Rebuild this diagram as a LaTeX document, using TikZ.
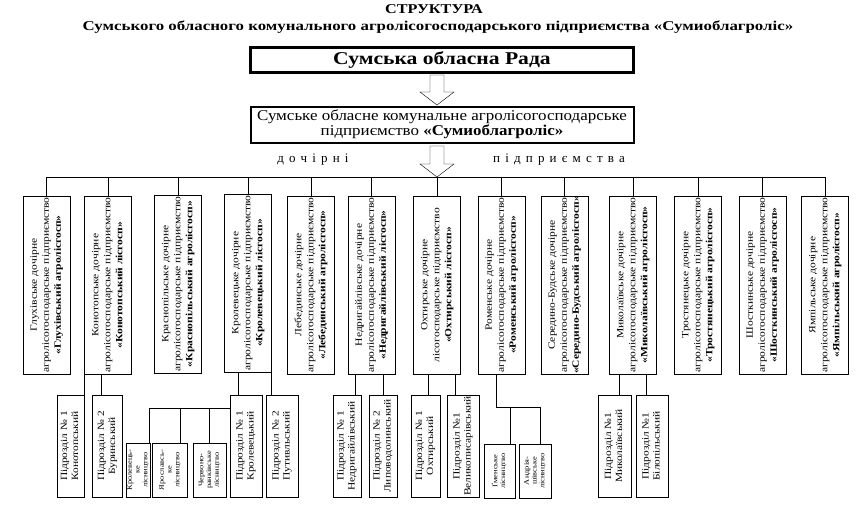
\documentclass[tikz,border=0pt]{standalone}
\usepackage{fontspec}
\setmainfont{Liberation Serif}
\newfontfamily\spaced[LetterSpace=40]{Liberation Serif}
\usepackage{graphicx}
\usetikzlibrary{calc,positioning}

\newcommand{\vtxt}[1]{\rotatebox{90}{\scalebox{1.2}[1]{\begin{tabular}{@{}c@{}}#1\end{tabular}}}}
\newcommand{\wide}[2]{\scalebox{#1}[1]{\begin{tabular}{@{}c@{}}#2\end{tabular}}}
\newcommand{\bigdown}[2]{%
  \draw[fill=white] ($(#1)+(-7,0)$) -- ($(#1)+(7,0)$) -- ($(#2)+(7,-13)$) -- ($(#2)+(17,-13)$)
    -- (#2) -- ($(#2)+(-17,-13)$) -- ($(#2)+(-7,-13)$) -- cycle;}

\tikzset{
  dbox/.style={draw, inner sep=0pt, minimum width=47, minimum height=178, font=\fontsize{9.6}{12}\selectfont},
  sbox/.style={draw, inner sep=0pt, minimum height=102, font=\fontsize{9.5}{11}\selectfont},
  lbox/.style={draw, inner sep=0pt, minimum height=54, font=\fontsize{7}{7.8}\selectfont},
}

\begin{document}
\begin{tikzpicture}[x=1pt,y=-1pt]
\useasboundingbox (0,0) rectangle (868,509);

% title
\node[font=\bfseries\fontsize{13.5}{15}\selectfont] (t1) at (434,10) {\wide{1.2}{СТРУКТУРА}};
\node[font=\bfseries\fontsize{13.5}{15}\selectfont] (t2) at (438,27) {\wide{1.25}{Сумського обласного комунального агролісогосподарського підприємства «Сумиоблагроліс»}};

% top boxes
\node[draw, line width=2.5pt, minimum width=383, minimum height=25, inner sep=0pt, font=\bfseries\fontsize{18}{20}\selectfont] (rada) at (442,60) {\wide{1.2}{Сумська обласна Рада}};
\node[draw, line width=2pt, minimum width=383, minimum height=36, inner sep=0pt, font=\fontsize{15}{15}\selectfont] (sob) at (442,125)
  {\wide{1.13}{Сумське обласне комунальне агролісогосподарське\\підприємство \textbf{«Сумиоблагроліс»}}};

\coordinate (a1t) at (437,75);  \coordinate (a1b) at (437,105);
\coordinate (a2t) at (437,146); \coordinate (a2b) at (437,177);
\bigdown{a1t}{a1b}
\bigdown{a2t}{a2b}
\node[font=\spaced\fontsize{13}{15}\selectfont] (w1) at (313,160) {дочірні};
\node[font=\spaced\fontsize{13}{15}\selectfont] (w2) at (559,160) {підприємства};

% daughter enterprises
\node[dbox] (d1)  at (46.5,285) {\vtxt{Глухівське дочірне\\агролісогосподарське підприємство\\\textbf{«Глухівський агролісгосп»}}};
\node[dbox] (d2)  at (108,285)  {\vtxt{Конотопське дочірне\\агролісогосподарське підприємство\\\textbf{«Конотопський лісгосп»}}};
\node[dbox] (d3)  at (178,284)  {\vtxt{Краснопільське дочірне\\агролісогосподарське підприємство\\\textbf{«Краснопільський агролісгосп»}}};
\node[dbox] (d4)  at (248,283)  {\vtxt{Кролевецьке дочірне\\агролісогосподарське підприємство\\\textbf{«Кролевецький лісгосп»}}};
\node[dbox] (d5)  at (311,285)  {\vtxt{Лебединське дочірне\\агролісогосподарське підприємство\\\textbf{«Лебединський агролісгосп»}}};
\node[dbox] (d6)  at (371.5,285){\vtxt{Недригайлівське дочірне\\агролісогосподарське підприємство\\\textbf{«Недригайлівський лісгосп»}}};
\node[dbox] (d7)  at (437,285)  {\vtxt{Охтирське дочірне\\лісогосподарське підприємство\\\textbf{«Охтирський лісгосп»}}};
\node[dbox] (d8)  at (501.5,285){\vtxt{Роменське дочірне\\агролісогосподарське підприємство\\\textbf{«Роменський агролісгосп»}}};
\node[dbox] (d9)  at (564.5,285){\vtxt{Середино-Будське дочірне\\агролісогосподарське підприємство\\\textbf{«Середино-Будський агролісгосп»}}};
\node[dbox] (d10) at (633,285)  {\vtxt{Миколаївське дочірне\\агролісогосподарське підприємство\\\textbf{«Миколаївський агролісгосп»}}};
\node[dbox] (d11) at (698,285)  {\vtxt{Тростянецьке дочірне\\агролісогосподарське підприємство\\\textbf{«Тростянецький агролісгосп»}}};
\node[dbox] (d12) at (762.5,285){\vtxt{Шосткинське дочірне\\агролісогосподарське підприємство\\\textbf{«Шосткинський агролісгосп»}}};
\node[dbox] (d13) at (825,285)  {\vtxt{Ямпільське дочірне\\агролісогосподарське підприємство\\\textbf{«Ямпільський агролісгосп»}}};

\draw (d1.north |- a2b) -- (d13.north |- a2b);
\foreach \i in {1,...,13} \draw (d\i.north |- a2b) -- (d\i.north);

% units
\node[sbox, minimum width=27] (k1) at (70.5,446) {\vtxt{Підрозділ № 1\\Конотопський}};
\node[sbox, minimum width=30] (k2) at (107.5,446){\vtxt{Підрозділ № 2\\Буринський}};
\node[sbox, minimum width=32] (kr1) at (246,446) {\vtxt{Підрозділ № 1\\Кролевецький}};
\node[sbox, minimum width=32] (kr2) at (282,446) {\vtxt{Підрозділ № 2\\Путивльський}};
\node[sbox, minimum width=28] (n1) at (347,446)  {\vtxt{Підрозділ № 1\\Недригайлівський}};
\node[sbox, minimum width=28] (n2) at (383,446)  {\vtxt{Підрозділ № 2\\Липоводолинський}};
\node[sbox, minimum width=29] (o1) at (425.5,446){\vtxt{Підрозділ № 1\\Охтирський}};
\node[sbox, minimum width=32] (o2) at (463,446)  {\vtxt{Підрозділ №1\\Великописарівський}};
\node[sbox, minimum width=33] (m1) at (614.5,446){\vtxt{Підрозділ №1\\Миколаївський}};
\node[sbox, minimum width=32] (m2) at (652,446)  {\vtxt{Підрозділ №1\\Білопільський}};

\foreach \u/\d/\x in {k1/d2/84, k2/d2/101, kr1/d4/238, kr2/d4/271, n1/d6/355, n2/d6/383,
                      o1/d7/428, o2/d7/455, m1/d10/619, m2/d10/646}
  \draw (\x,0 |- \d.south) -- (\x,0 |- \u.north);

% forestries
\node[lbox, minimum width=24] (l1) at (138,470) {\vtxt{Кролевець-\\ке\\лісництво}};
\node[lbox, minimum width=35] (l2) at (170,470) {\vtxt{Ярославсь-\\ке\\лісництво}};
\node[lbox, minimum width=33] (l3) at (209.5,470) {\vtxt{Червоно-\\ранківське\\лісництво}};
\node[lbox, minimum width=31] (r1) at (499.5,471) {\vtxt{Ґменське\\лісництво}};
\node[lbox, minimum width=32] (r2) at (535,471) {\vtxt{Андрія-\\шівське\\лісництво}};

\coordinate (kb) at (149,408);
\draw (kb) -- (kb -| kr1.west);
\foreach \l/\x in {l1/149, l2/180, l3/209} \draw (\x,0 |- kb) -- (\x,0 |- \l.north);
\coordinate (rb) at (496,407);
\draw (rb |- d8.south) -- (rb) -- (540,407);
\foreach \l/\x in {r1/510, r2/540} \draw (\x,0 |- rb) -- (\x,0 |- \l.north);
\end{tikzpicture}
\end{document}
